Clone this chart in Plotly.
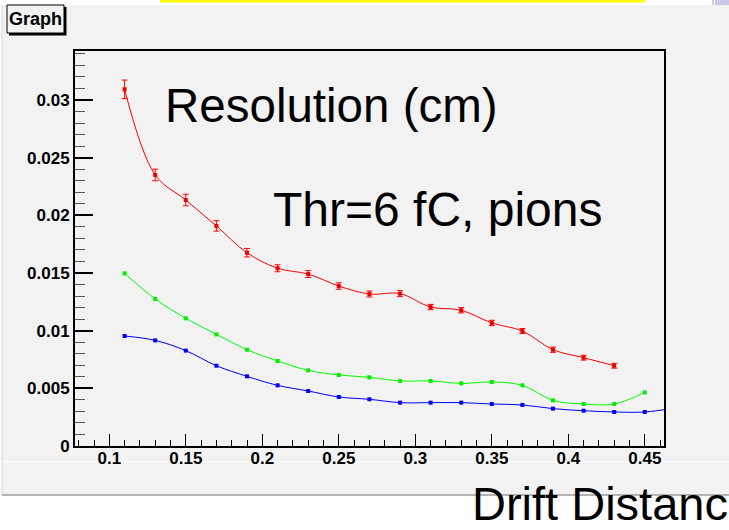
import plotly.graph_objects as go

# ---------------- data ----------------
x_red = [0.11, 0.13, 0.15, 0.17, 0.19, 0.21, 0.23, 0.25, 0.27, 0.29, 0.31, 0.33, 0.35, 0.37, 0.39, 0.41, 0.43]
red = [0.03093, 0.02350, 0.02133, 0.01908, 0.01676, 0.01541, 0.01491, 0.01387, 0.01318, 0.01321,
       0.01205, 0.01177, 0.01067, 0.00997, 0.00835, 0.00766, 0.00696]
red_err = [0.0008, 0.0005, 0.0005, 0.00045, 0.00037, 0.0003, 0.0003, 0.00028, 0.00026, 0.00026,
           0.00023, 0.00023, 0.00023, 0.00022, 0.00023, 0.00021, 0.00021]

x_green = [0.11, 0.13, 0.15, 0.17, 0.19, 0.21, 0.23, 0.25, 0.27, 0.29, 0.31, 0.33, 0.35, 0.37, 0.39, 0.41, 0.43, 0.45]
green = [0.01497, 0.01275, 0.01107, 0.00968, 0.00835, 0.00737, 0.00656, 0.00616, 0.00595, 0.00564,
         0.00564, 0.00543, 0.00555, 0.00526, 0.00396, 0.00364, 0.00364, 0.00465]

x_blue = [0.11, 0.13, 0.15, 0.17, 0.19, 0.21, 0.23, 0.25, 0.27, 0.29, 0.31, 0.33, 0.35, 0.37, 0.39, 0.41, 0.43, 0.45, 0.47]
blue = [0.00954, 0.00916, 0.00827, 0.00696, 0.00604, 0.00526, 0.00477, 0.00425, 0.00405, 0.00376,
        0.00376, 0.00376, 0.00364, 0.00356, 0.00324, 0.00306, 0.00295, 0.00295, 0.00330]

x_tickvals = [0.1, 0.15, 0.2, 0.25, 0.3, 0.35, 0.4, 0.45]
x_ticktext = ["0.1", "0.15", "0.2", "0.25", "0.3", "0.35", "0.4", "0.45"]
y_tickvals = [0, 0.005, 0.01, 0.015, 0.02, 0.025, 0.03]
y_ticktext = ["0", "0.005", "0.01", "0.015", "0.02", "0.025", "0.03"]

title_text = "Graph"
label_1 = "Resolution (cm)"
label_2 = "Thr=6 fC, pions"
x_title = "Drift Distanc"   # as visible in the reference (cut at the right edge)

# ---------------- layout geometry (pixels) ----------------
W, H = 729, 530
L, R, T, B = 75, 65, 51, 84
PW, PH = W - L - R, H - T - B


def px(x):
    return (x - L) / PW


def py(y):
    return (H - B - y) / PH


BG = "#f2f2f2"
FONT = "Liberation Sans, Arial, Helvetica, sans-serif"

fig = go.Figure()

fig.add_trace(go.Scatter(
    x=x_blue, y=blue, mode="lines+markers",
    line=dict(color="#0000ff", width=1, shape="spline", smoothing=1),
    marker=dict(symbol="square", size=4, color="#0000ff"),
    cliponaxis=True, showlegend=False,
))
fig.add_trace(go.Scatter(
    x=x_green, y=green, mode="lines+markers",
    line=dict(color="#00ff00", width=1, shape="spline", smoothing=1),
    marker=dict(symbol="square", size=4, color="#00ee00"),
    showlegend=False,
))
fig.add_trace(go.Scatter(
    x=x_red, y=red, mode="lines+markers",
    line=dict(color="#ff0000", width=1, shape="spline", smoothing=1),
    marker=dict(symbol="square", size=4, color="#ee0000"),
    error_y=dict(type="data", array=red_err, visible=True, color="#ff0000", thickness=1, width=3),
    showlegend=False,
))

shapes = [
    # canvas gray area
    dict(type="rect", xref="paper", yref="paper", x0=px(2), x1=px(W + 5), y0=py(495), y1=py(5),
         fillcolor=BG, line=dict(width=0), layer="below"),
    dict(type="line", xref="paper", yref="paper", x0=px(2), x1=px(2), y0=py(495), y1=py(5),
         line=dict(color="#d4d4d4", width=1), layer="below"),
    dict(type="line", xref="paper", yref="paper", x0=px(2), x1=px(W + 5), y0=py(495), y1=py(495),
         line=dict(color="#b4b4b4", width=2), layer="below"),
    dict(type="line", xref="paper", yref="paper", x0=px(3), x1=px(W + 5), y0=py(462), y1=py(462),
         line=dict(color="#ffffff", width=1), layer="below"),
    # top strip decorations
    dict(type="rect", xref="paper", yref="paper", x0=px(160), x1=px(645), y0=py(2.5), y1=py(-1),
         fillcolor="#ffff00", line=dict(width=0), layer="below"),
    dict(type="line", xref="paper", yref="paper", x0=px(713), x1=px(713), y0=py(5), y1=py(-1),
         line=dict(color="#a0a0a0", width=1), layer="below"),
    dict(type="rect", xref="paper", yref="paper", x0=px(715), x1=px(W + 5), y0=py(5), y1=py(-1),
         fillcolor="#c8c8e8", line=dict(width=0), layer="below"),
    # title box with shadow
    dict(type="rect", xref="paper", yref="paper", x0=px(9), x1=px(66.5), y0=py(35.5), y1=py(7),
         fillcolor="#000000", line=dict(width=0), layer="above"),
    dict(type="rect", xref="paper", yref="paper", x0=px(7), x1=px(64), y0=py(33), y1=py(5),
         fillcolor=BG, line=dict(color="#000000", width=1), layer="above"),
]

annotations = [
    dict(text="<b>" + title_text + "</b>", xref="paper", yref="paper", x=px(35.5), y=py(19),
         xanchor="center", yanchor="middle", showarrow=False,
         font=dict(family=FONT, size=18, color="#000000")),
    dict(text=label_1, xref="paper", yref="paper", x=px(163), y=py(105.5),
         xanchor="left", yanchor="middle", showarrow=False,
         font=dict(family=FONT, size=47.5, color="#000000")),
    dict(text=label_2, xref="paper", yref="paper", x=px(271), y=py(209.5),
         xanchor="left", yanchor="middle", showarrow=False,
         font=dict(family=FONT, size=48, color="#000000")),
    dict(text=x_title, xref="paper", yref="paper", x=px(470), y=py(503.5),
         xanchor="left", yanchor="middle", showarrow=False,
         font=dict(family=FONT, size=47, color="#000000")),
]

fig.update_layout(
    width=W, height=H,
    margin=dict(l=L, r=R, t=T, b=B, pad=0),
    paper_bgcolor="#ffffff", plot_bgcolor=BG,
    showlegend=False,
    shapes=shapes, annotations=annotations,
    xaxis=dict(
        range=[0.07758, 0.46255], showgrid=False, zeroline=False,
        showline=True, linecolor="#000000", linewidth=2, mirror=True,
        ticks="inside", ticklen=12, tickwidth=1, tickcolor="#000000",
        tickvals=x_tickvals, ticktext=x_ticktext, ticklabelstandoff=-4,
        tickfont=dict(family=FONT, size=17, color="#000000", weight="bold"),
        minor=dict(dtick=0.01, tick0=0, ticks="inside", ticklen=6, tickwidth=1, tickcolor="#000000", showgrid=False),
    ),
    yaxis=dict(
        range=[0, 0.03425], showgrid=False, zeroline=False,
        showline=True, linecolor="#000000", linewidth=2, mirror=True,
        ticks="inside", ticklen=18, tickwidth=2, tickcolor="#000000",
        tickvals=y_tickvals, ticktext=y_ticktext,
        tickfont=dict(family=FONT, size=17, color="#000000", weight="bold"),
        minor=dict(dtick=0.001, tick0=0, ticks="inside", ticklen=10, tickwidth=1, tickcolor="#555555", showgrid=False),
    ),
)

fig.write_html("out.html")
